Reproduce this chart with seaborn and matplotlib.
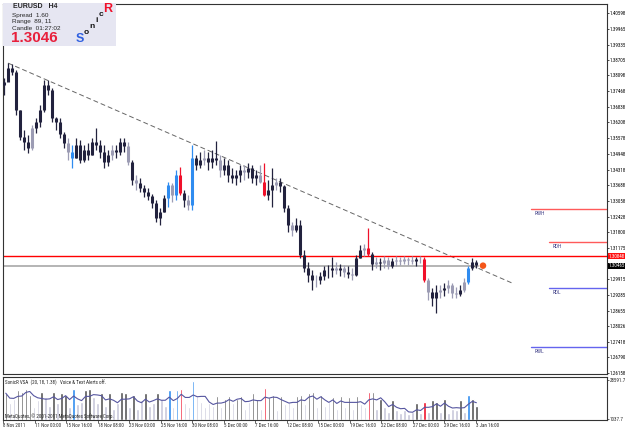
import numpy as np
import pandas as pd
import matplotlib
matplotlib.use("Agg")
import matplotlib.pyplot as plt
import matplotlib.patches as mpatches
from matplotlib import font_manager
import seaborn as sns

# EURUSD H4 bars (each entry = two H4 candles)
highs = [1.3799, 1.3859, 1.3855, 1.3831, 1.3670, 1.3590, 1.3570, 1.3610, 1.3638, 1.3691,
         1.3791, 1.3791, 1.3759, 1.3642, 1.3638, 1.3582, 1.3558, 1.3530, 1.3558, 1.3550,
         1.3530, 1.3538, 1.3558, 1.3598, 1.3550, 1.3530, 1.3510, 1.3530, 1.3530, 1.3558,
         1.3558, 1.3542, 1.3470, 1.3410, 1.3398, 1.3370, 1.3358, 1.3334, 1.3310, 1.3278,
         1.3330, 1.3382, 1.3378, 1.3430, 1.3442, 1.3350, 1.3330, 1.3530, 1.3490, 1.3502,
         1.3510, 1.3502, 1.3510, 1.3546, 1.3490, 1.3478, 1.3470, 1.3438, 1.3430, 1.3450,
         1.3450, 1.3458, 1.3450, 1.3430, 1.3450, 1.3458, 1.3390, 1.3438, 1.3398, 1.3398,
         1.3370, 1.3290, 1.3221, 1.3237, 1.3229, 1.3109, 1.3061, 1.3029, 1.3009, 1.3021,
         1.3045, 1.3049, 1.3081, 1.3061, 1.3053, 1.3049, 1.3045, 1.3037, 1.3089, 1.3129,
         1.3133, 1.3197, 1.3101, 1.3081, 1.3077, 1.3085, 1.3081, 1.3077, 1.3085, 1.3081,
         1.3085, 1.3081, 1.3085, 1.3081, 1.3085, 1.3081, 1.2997, 1.2957, 1.2969, 1.2969,
         1.2977, 1.2989, 1.2977, 1.2961, 1.2969, 1.2997, 1.3045, 1.3077, 1.3069]
lows = [1.3731, 1.3799, 1.3811, 1.3650, 1.3550, 1.3510, 1.3498, 1.3510, 1.3578, 1.3602,
        1.3662, 1.3731, 1.3622, 1.3590, 1.3558, 1.3518, 1.3470, 1.3438, 1.3478, 1.3458,
        1.3462, 1.3470, 1.3490, 1.3510, 1.3478, 1.3438, 1.3446, 1.3470, 1.3478, 1.3490,
        1.3502, 1.3450, 1.3370, 1.3350, 1.3342, 1.3322, 1.3310, 1.3278, 1.3221, 1.3209,
        1.3261, 1.3282, 1.3302, 1.3310, 1.3330, 1.3282, 1.3270, 1.3270, 1.3430, 1.3438,
        1.3450, 1.3430, 1.3438, 1.3450, 1.3402, 1.3410, 1.3382, 1.3378, 1.3370, 1.3382,
        1.3390, 1.3398, 1.3378, 1.3370, 1.3378, 1.3326, 1.3310, 1.3282, 1.3350, 1.3342,
        1.3261, 1.3181, 1.3165, 1.3181, 1.3077, 1.3021, 1.2981, 1.2949, 1.2961, 1.2973,
        1.2989, 1.2997, 1.3001, 1.3013, 1.3005, 1.3001, 1.2997, 1.2989, 1.3005, 1.3077,
        1.3085, 1.3085, 1.3029, 1.3037, 1.3029, 1.3037, 1.3033, 1.3037, 1.3045, 1.3049,
        1.3053, 1.3049, 1.3053, 1.3045, 1.3057, 1.2981, 1.2909, 1.2885, 1.2856, 1.2917,
        1.2925, 1.2937, 1.2917, 1.2917, 1.2925, 1.2941, 1.2973, 1.3029, 1.3037]
closes = [1.3783, 1.3839, 1.3823, 1.3670, 1.3562, 1.3542, 1.3518, 1.3598, 1.3622, 1.3670,
          1.3771, 1.3751, 1.3638, 1.3622, 1.3574, 1.3538, 1.3502, 1.3478, 1.3530, 1.3470,
          1.3510, 1.3490, 1.3542, 1.3530, 1.3502, 1.3462, 1.3490, 1.3510, 1.3502, 1.3542,
          1.3526, 1.3462, 1.3390, 1.3378, 1.3358, 1.3342, 1.3326, 1.3298, 1.3237, 1.3261,
          1.3318, 1.3370, 1.3330, 1.3410, 1.3338, 1.3310, 1.3290, 1.3478, 1.3450, 1.3470,
          1.3478, 1.3462, 1.3478, 1.3470, 1.3430, 1.3450, 1.3410, 1.3398, 1.3410, 1.3430,
          1.3422, 1.3438, 1.3398, 1.3410, 1.3382, 1.3330, 1.3350, 1.3370, 1.3382, 1.3366,
          1.3278, 1.3209, 1.3189, 1.3209, 1.3089, 1.3037, 1.3009, 1.2989, 1.2989, 1.3005,
          1.3029, 1.3029, 1.3037, 1.3029, 1.3037, 1.3021, 1.3013, 1.3009, 1.3077, 1.3109,
          1.3117, 1.3093, 1.3053, 1.3061, 1.3057, 1.3069, 1.3045, 1.3065, 1.3069, 1.3065,
          1.3073, 1.3069, 1.3065, 1.3073, 1.3073, 1.2989, 1.2941, 1.2917, 1.2941, 1.2949,
          1.2957, 1.2969, 1.2937, 1.2933, 1.2949, 1.2981, 1.3037, 1.3061, 1.3049]
first_open = 1.3771

volumes = [19000, 12000, 15000, 21000, 20000, 22000, 18000, 9000, 14000, 20000,
           16000, 10000, 20000, 12000, 19000, 18000, 9000, 22000, 11000, 13000,
           21000, 22000, 16000, 12000, 19000, 10000, 19000, 8000, 12000, 20000,
           19000, 9000, 18000, 8000, 14000, 19000, 10000, 12000, 19000, 15000,
           10000, 21000, 9000, 21000, 22000, 12000, 9000, 28000, 17000, 13000,
           9000, 12000, 10000, 17000, 9000, 15000, 17000, 12000, 15000, 17000,
           8000, 13000, 19000, 15000, 8000, 23000, 16000, 18000, 7000, 17000,
           11000, 13000, 9000, 17000, 18000, 11000, 19000, 20000, 9000, 18000,
           10000, 13000, 16000, 8000, 17000, 9000, 16000, 8000, 17000, 11000,
           9000, 20000, 20000, 8000, 15000, 9000, 6000, 14000, 7000, 5000,
           7000, 4000, 6000, 12000, 5000, 13000, 6000, 14000, 13000, 6000,
           15000, 5000, 8000, 7000, 14000, 6000, 18000, 15000, 10000]

blue_bars = [17, 41, 43, 47, 116]
red_bars = [44, 65, 91, 105]
dark_bars = [0, 3, 4, 5, 6, 9, 12, 14, 15, 20, 21, 24, 26, 29, 30, 32, 35, 38, 53, 55,
             56, 58, 59, 62, 63, 66, 67, 69, 73, 74, 76, 77, 79, 82, 84, 86, 88, 92, 94,
             97, 103, 107, 108, 110, 114, 117, 118]

date_labels = ["8 Nov 2011", "11 Nov 00:00", "15 Nov 16:00", "18 Nov 08:00", "23 Nov 00:00",
               "25 Nov 16:00", "30 Nov 08:00", "5 Dec 00:00", "7 Dec 16:00", "12 Dec 08:00",
               "15 Dec 00:00", "19 Dec 16:00", "22 Dec 08:00", "27 Dec 00:00", "29 Dec 16:00",
               "3 Jan 16:00"]
price_ticks = [1.40598, 1.39965, 1.39335, 1.38705, 1.38098, 1.37468, 1.36838, 1.36208,
               1.35578, 1.34948, 1.34318, 1.33688, 1.33058, 1.32428, 1.31800, 1.31175,
               1.29915, 1.29285, 1.28655, 1.28026, 1.27418, 1.26790, 1.26158]
vol_ticks = [28591.7, 1037.7]

trend_x = [1, 127]
trend_y = [1.3859, 1.2977]
resistance = 1.30848
bid = 1.30465
levels = {"RWH": 1.3274, "RDH": 1.3141, "RDL": 1.2957, "RWL": 1.2720}

# ---- figure setup
sns.set_theme(style="white")
plt.rcParams["font.family"] = ["Liberation Sans", "DejaVu Sans"]

# pick a condensed face for the tiny axis texts if one is installed
installed = {f.name for f in font_manager.fontManager.ttflist}
narrow_name = next((f for f in ["Liberation Sans Narrow", "DejaVu Sans Condensed",
                                "Roboto Condensed"] if f in installed), None)
if narrow_name:
    narrow = [narrow_name, "DejaVu Sans"]
    small = 3.6
else:
    narrow = ["Liberation Sans", "DejaVu Sans"]
    small = 3.2

W, H = 625, 429
fig = plt.figure(figsize=(W / 100, H / 100), dpi=100)
fig.patch.set_facecolor("white")


def px(x, y):
    return x / W, 1 - y / H


ax = fig.add_axes([3 / W, 1 - 374 / H, 604 / W, 370 / H])
ax2 = fig.add_axes([3 / W, 1 - 420 / H, 604 / W, 43 / H])

n = len(closes)
idx = np.arange(n)
opens = [first_open] + closes[:-1]

df = pd.DataFrame({"i": idx, "open": opens, "high": highs, "low": lows,
                   "close": closes, "vol": volumes})

cand_cols = []
vol_cols = []
for i in idx:
    if i in blue_bars:
        c = "#2f8cf0"
        v = "#2f8cf0"
    elif i in red_bars:
        c = "#f0102a"
        v = "#f0102a"
    else:
        c = "#9c9cb4" if volumes[i] < 10000 else "#22223e"
        v = "#555555" if i in dark_bars else "#c8c8da"
    cand_cols.append(c)
    vol_cols.append(v)

# candles
ax.vlines(df["i"], df["low"], df["high"], colors=cand_cols, lw=0.9, zorder=3)
ax.vlines(df["i"], df["open"], df["close"], colors=cand_cols, lw=2.2, zorder=3)

# trend line and horizontal lines
sns.lineplot(x=trend_x, y=trend_y, ax=ax, color="#666666", lw=0.7,
             linestyle=(0, (5, 3)), zorder=2)
ax.axhline(resistance, color="#ff0000", lw=1.0, zorder=2)
ax.plot([-0.25, n - 0.5], [bid, bid], color="#b4b4b4", lw=1.4, zorder=1)
ax.scatter([n + 0.75], [bid], s=22, color="#f4561a", zorder=4, edgecolors="none")

for name, val in levels.items():
    start = 131.75 if name in ("RWH", "RWL") else 136.25
    col = "#ff5a5a" if name in ("RWH", "RDH") else "#6464ee"
    ax.plot([start, 151], [val, val], color=col, lw=1.0, zorder=2)
    ax.annotate(name, (start + 1, val), xytext=(0, -1.5), textcoords="offset points",
                fontsize=small + 0.4, color="#44448a", ha="left", va="top", family=narrow)

ax.set_xlim(-0.25, 150.75)
ax.set_ylim(1.2612, 1.4096)
ax.set_xticks([])
ax.yaxis.tick_right()
ax.set_yticks(price_ticks)
ax.set_yticklabels([f"{t:.5f}" for t in price_ticks], family=narrow)
ax.tick_params(axis="y", direction="out", length=1.5, width=0.5, labelsize=small,
               pad=0.3, colors="black", right=True)
for s in ax.spines.values():
    s.set_color("#333333")
    s.set_linewidth(0.8)

# current price labels on the axis
ytr = ax.get_yaxis_transform()
ax.text(1.003, resistance, f"{resistance:.5f}", transform=ytr, fontsize=small, color="white",
        ha="left", va="center", family=narrow,
        bbox=dict(boxstyle="square,pad=0.1", fc="#ff1010", ec="none"))
ax.text(1.003, bid, f"{bid:.5f}", transform=ytr, fontsize=small, color="white",
        ha="left", va="center", family=narrow,
        bbox=dict(boxstyle="square,pad=0.1", fc="black", ec="none"))

# info box
box = mpatches.Rectangle(px(3, 46), 113 / W, 43 / H, transform=fig.transFigure,
                         facecolor="#e6e6f2", edgecolor="none", zorder=5)
fig.patches.append(box)
fig.text(*px(13, 7), "EURUSD   H4", fontsize=5, fontweight="bold", va="center", zorder=6)
fig.text(*px(12, 15), "Spread  1.60", fontsize=4.6, va="center", zorder=6)
fig.text(*px(12, 22), "Range  89, 11", fontsize=4.6, va="center", zorder=6)
fig.text(*px(12, 29), "Candle  01:27:02", fontsize=4.6, va="center", zorder=6)
fig.text(*px(11, 38), "1.3046", fontsize=11, fontweight="bold", color="#e8203c",
         va="center", zorder=6)
for ch, x, y, sz, col in [("S", 76, 39, 9, "#3060e0"), ("o", 84, 32, 6, "#111111"),
                          ("n", 89, 26, 6, "#111111"), ("i", 95, 20, 6, "#111111"),
                          ("c", 99, 14, 6, "#111111"), ("R", 103, 9, 9, "#f0102a")]:
    fig.text(*px(x, y), ch, fontsize=sz, fontweight="bold", color=col,
             va="center", ha="left", zorder=6)

# volume panel
ax2.bar(df["i"], df["vol"], width=0.6, color=vol_cols, zorder=2)
df["ma"] = df["vol"].rolling(4, min_periods=1).mean()
sns.lineplot(data=df, x="i", y="ma", ax=ax2, color="#5656a0", lw=0.8, zorder=3)
ax2.set_xlim(-0.25, 150.75)
ax2.set_ylim(0, 30500)
ax2.set_xlabel("")
ax2.set_ylabel("")
ax2.yaxis.tick_right()
ax2.set_yticks(vol_ticks)
ax2.set_yticklabels([f"{t:.1f}" for t in vol_ticks], family=narrow)
ax2.tick_params(axis="y", direction="out", length=1.5, width=0.5, labelsize=small, pad=0.3,
                right=True)
ax2.set_xticks(np.arange(len(date_labels)) * 7.9 - 0.7)
ax2.set_xticklabels(date_labels, ha="left", family=narrow)
ax2.tick_params(axis="x", direction="out", length=2, width=0.5, labelsize=small, pad=0.5,
                bottom=True)
for s in ax2.spines.values():
    s.set_color("#333333")
    s.set_linewidth(0.8)
ax2.text(0.004, 0.86, "SonicR VSA  (20, 18, 1.38)   Voice & Text Alerts off.",
         transform=ax2.transAxes, fontsize=small, va="center", family=narrow)
ax2.text(0.004, 0.1, "MetaQuotes, \u00a9 2001-2011 MetaQuotes Software Corp.",
         transform=ax2.transAxes, fontsize=small, va="center", zorder=4, family=narrow)

fig.savefig("out.png", dpi=100)
